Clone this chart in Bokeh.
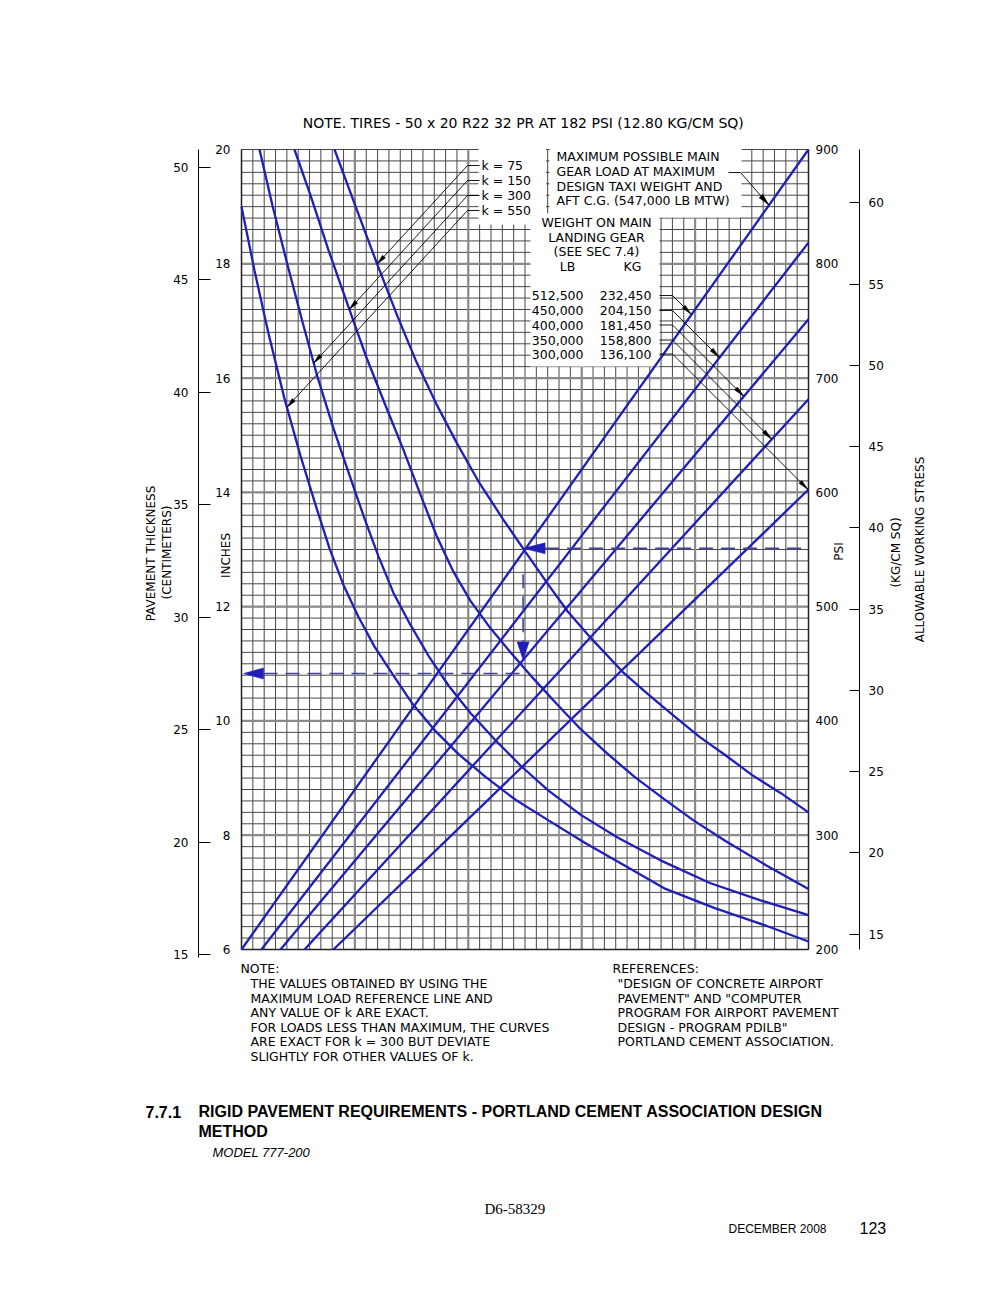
import numpy as np
from bokeh.plotting import figure
from bokeh.models import Range1d, LinearAxis, FixedTicker, Label
from bokeh.embed import file_html
from bokeh.resources import INLINE

# ---------------- values ----------------
# x = position across the nomograph grid (0 = left edge, 50 = right edge, one unit per column)
K_VALUES = [75, 150, 300, 550]

K75_X = [8.20, 10.14, 11.99, 13.76, 15.43, 17.20, 19.05, 20.99, 23.10, 25.04, 27.07,
         28.75, 30.86, 33.60, 35.89, 38.18, 40.39, 42.68, 44.97, 47.53, 50.00]
K75_PSI = [900, 848, 799, 754, 714, 677, 642, 608, 576, 548, 519,
           496, 472, 443, 423, 404, 386, 370, 353, 337, 320]

K150_X = [4.67, 6.08, 7.67, 9.44, 11.02, 12.70, 14.29, 15.78, 17.20, 18.61, 20.19, 21.96,
          23.81, 25.75, 27.78, 29.89, 32.19, 34.66, 37.21, 39.86, 42.68, 46.21, 50.00]
K150_PSI = [900, 860, 812, 762, 718, 676, 637, 598, 562, 532, 505, 481,
            459, 437, 415, 393, 372, 351, 332, 313, 295, 274, 253]

K300_X = [1.59, 2.73, 4.06, 5.38, 6.70, 8.11, 9.52, 10.85, 12.08, 13.40, 14.90, 16.49,
          18.25, 20.19, 22.31, 24.60, 27.07, 29.89, 33.16, 36.95, 41.36, 45.77, 50.00]
K300_PSI = [900, 851, 799, 749, 701, 656, 615, 577, 544, 512, 484, 457,
            431, 407, 384, 361, 339, 318, 298, 278, 258, 243, 230]

K550_X = [0.00, 1.15, 2.38, 3.79, 5.20, 6.53, 7.76, 8.99, 10.32, 11.73, 13.32, 15.08,
          17.02, 19.14, 21.52, 24.16, 27.07, 30.34, 33.86, 37.39, 41.80, 46.21, 50.00]
K550_PSI = [850, 794, 739, 682, 632, 589, 551, 519, 491, 465, 441, 415,
            392, 371, 351, 331, 313, 293, 273, 253, 236, 221, 207]

LOAD_LB = [512500, 450000, 400000, 350000, 300000]
LOAD_KG = [232450, 204150, 181450, 158800, 136100]
LOAD_START_X = [0.00, 1.76, 3.44, 5.56, 8.11]        # where each line leaves the 6 in level
LOAD_END_IN = [20.00, 18.37, 17.03, 15.63, 14.05]     # thickness where each line meets the right edge

INCH_TICKS = [6, 8, 10, 12, 14, 16, 18, 20]
PSI_TICKS = [200, 300, 400, 500, 600, 700, 800, 900]
CM_TICKS = [15, 20, 25, 30, 35, 40, 45, 50]
KGCM_TICKS = [15, 20, 25, 30, 35, 40, 45, 50, 55, 60]

EXAMPLE_PSI = 551
EXAMPLE_K = 75
EXAMPLE_LOAD_LB = 400000
EXAMPLE_THICKNESS_IN = 10.83

K_CURVES = {75: (K75_X, K75_PSI), 150: (K150_X, K150_PSI),
            300: (K300_X, K300_PSI), 550: (K550_X, K550_PSI)}

# ---------------- layout helpers (page pixels) ----------------
W, H = 1000, 1290
FL, FR, FT = 241, 808, 149          # grid edges on the page
Y6_PAGE = 949                        # page y of the 6 in line
X0, X1 = 0.0, 50.0
Y_TOP = 20.0
SX = (FR - FL) / (X1 - X0)
SY = (Y6_PAGE - FT) / (Y_TOP - 6.0)
PSI_PER_KGCM = 14.2233


def dx(px):
    return X0 + (px - FL) / SX


def dy(py):
    return 6.0 + (Y6_PAGE - py) / SY


def pgx(x):
    return FL + (np.asarray(x, float) - X0) * SX


def pgy(y):
    return Y6_PAGE - (np.asarray(y, float) - 6.0) * SY


def in_to_psi(v):
    return 200.0 + (v - 6.0) * 50.0


def psi_to_in(psi):
    return 6.0 + (np.asarray(psi, float) - 200.0) / 50.0


y_lo, y_hi = dy(H), dy(0)
p = figure(width=W, height=H, x_range=Range1d(dx(0), dx(W)), y_range=Range1d(y_lo, y_hi),
           x_axis_type=None, y_axis_type=None, toolbar_location=None, output_backend="svg",
           min_border=0, min_border_left=0, min_border_right=0, min_border_top=0,
           min_border_bottom=0)
p.title.visible = False
p.outline_line_color = None
p.background_fill_color = "white"
p.border_fill_color = "white"
p.extra_y_ranges = {
    "psi": Range1d(in_to_psi(y_lo), in_to_psi(y_hi)),
    "cm": Range1d(y_lo * 2.54, y_hi * 2.54),
    "kgcm": Range1d(in_to_psi(y_lo) / PSI_PER_KGCM, in_to_psi(y_hi) / PSI_PER_KGCM),
}

# ---------------- grid (drawn as lines inside the nomograph area) ----------------
GRID_DARK = "#474747"
cols = list(range(0, 51))
rows = [round(6 + 0.2 * i, 1) for i in range(71)]
p.multi_line([[c, c] for c in cols], [[6.0, Y_TOP] for c in cols], line_color=GRID_DARK, line_width=1)
p.multi_line([[X0, X1] for r in rows], [[r, r] for r in rows], line_color=GRID_DARK, line_width=1)
heavy_c = [10, 20, 30, 40]
heavy_r = [8, 10, 12, 14, 16, 18]
p.multi_line([[c, c] for c in heavy_c], [[6.0, Y_TOP] for c in heavy_c], line_color="#8a8a8a", line_width=2.2)
p.multi_line([[X0, X1] for r in heavy_r], [[r, r] for r in heavy_r], line_color="#8a8a8a", line_width=2.2)
p.multi_line([[X0, X0], [X1, X1], [X0, X1]], [[6.0, Y_TOP], [6.0, Y_TOP], [6.0, 6.0]],
             line_color="#222222", line_width=1.5)

# white label areas
boxes = [(478, 545.5, 147, 224), (549, 741, 147, 217), (530, 659, 213, 366)]
p.quad(left=[dx(b[0]) for b in boxes], right=[dx(b[1]) for b in boxes],
       top=[dy(b[2]) for b in boxes], bottom=[dy(b[3]) for b in boxes],
       fill_color="white", line_color=None)

# ---------------- curves ----------------
BLUE = "#1f1fb8"
for k in K_VALUES:
    xs, ps = K_CURVES[k]
    p.line(xs, ps, y_range_name="psi", line_color=BLUE, line_width=2.3)
for x0, yend in zip(LOAD_START_X, LOAD_END_IN):
    p.line([x0, X1], [6.0, yend], line_color=BLUE, line_width=2.3)


# ---------------- leaders / arrows ----------------
def hit(p0, d, cx, cy):
    cx = np.asarray(cx, float)
    cy = np.asarray(cy, float)
    o = np.argsort(cy)
    cx, cy = cx[o], cy[o]
    d = np.asarray(d, float)
    d = d / np.hypot(*d)
    t = np.arange(0.0, 900.0, 0.2)
    xs = p0[0] + t * d[0]
    ys = p0[1] + t * d[1]
    ok = (ys >= cy[0]) & (ys <= cy[-1])
    f = xs - np.interp(ys, cy, cx)
    good = ok[:-1] & ok[1:] & (f[:-1] * f[1:] <= 0)
    i = int(np.argmax(good))
    return np.array([xs[i], ys[i]])


def head(tip, d, L, Wd, color):
    d = np.asarray(d, float)
    d = d / np.hypot(*d)
    n = np.array([-d[1], d[0]])
    tip = np.asarray(tip, float)
    b = tip - L * d
    pts = [tip, b + n * Wd / 2, b - n * Wd / 2]
    p.patch([dx(q[0]) for q in pts], [dy(q[1]) for q in pts],
            fill_color=color, line_color=color, line_width=0.5)


def poly(pts, color="black", width=0.9, dash="solid"):
    p.line([dx(q[0]) for q in pts], [dy(q[1]) for q in pts],
           line_color=color, line_width=width, line_dash=dash)


def curve_page(k):
    xs, ps = K_CURVES[k]
    return pgx(xs), pgy(psi_to_in(ps))


def load_page(i):
    return pgx([LOAD_START_X[i], X1]), pgy([6.0, LOAD_END_IN[i]])


K_ROWS = [165, 180, 195, 210]
for row, k in zip(K_ROWS, K_VALUES):
    d = (-1.0, 1.09)
    start = np.array([467.0, row])
    tip = hit(start, d, *curve_page(k))
    poly([(479, row), (467, row), tip])
    head(tip, d, 10, 4, "black")

W_ROWS = [295, 310, 324.5, 339.5, 353.5]
for i, row in enumerate(W_ROWS):
    d = (1.0, 1.0)
    start = np.array([672.0, row])
    tip = hit(start, d, *load_page(i))
    poly([(659, row), (672, row), tip])
    head(tip, d, 11, 4, "black")

d = (27.0, 31.0)
start = np.array([740.0, 172.0])
tip = hit(start, d, *load_page(0))
poly([(728, 172), (740, 172), tip])
head(tip, d, 12, 5, "black")

# worked example (dashed)
DASH_C = "#43439a"
kx, kp = K_CURVES[EXAMPLE_K]
x_v = float(np.interp(EXAMPLE_PSI, kp[::-1], kx[::-1]))
y_h = float(psi_to_in(EXAMPLE_PSI))
li = LOAD_LB.index(EXAMPLE_LOAD_LB)
y_tip = float(np.interp(x_v, [LOAD_START_X[li], X1], [6.0, LOAD_END_IN[li]]))
tx, ty = float(pgx(x_v)), float(pgy(y_h))
head((tx, ty), (-1, 0), 22, 11, BLUE)
poly([(tx + 22, ty), (FR, ty)], DASH_C, 1.6, "14 8")
vy = float(pgy(y_tip))
head((tx, vy), (0, 1), 18, 12, BLUE)
poly([(tx, ty + 26), (tx, vy - 18)], DASH_C, 1.6, "14 8")
ly = float(pgy(EXAMPLE_THICKNESS_IN))
head((FL + 2, ly), (-1, 0), 20, 11, BLUE)
poly([(FL + 22, ly), (tx, ly)], DASH_C, 1.6, "14 8")

# ---------------- axes ----------------
FONT = "DejaVu Sans"


def style_axis(ax):
    ax.major_label_text_font = FONT
    ax.major_label_text_font_size = "12px"
    ax.major_label_text_color = "black"
    ax.minor_tick_in = 0
    ax.minor_tick_out = 0


ax_in = LinearAxis(fixed_location=X0, ticker=FixedTicker(ticks=INCH_TICKS), bounds=(6, 20),
                   major_tick_in=0, major_tick_out=0, axis_line_color=None, major_label_standoff=11)
style_axis(ax_in)
p.add_layout(ax_in, "left")

ax_cm = LinearAxis(y_range_name="cm", fixed_location=dx(198), ticker=FixedTicker(ticks=CM_TICKS),
                   bounds=(dy(957) * 2.54, Y_TOP * 2.54),
                   major_tick_in=12, major_tick_out=0, major_label_standoff=10,
                   axis_line_color="black", major_tick_line_color="black")
style_axis(ax_cm)
p.add_layout(ax_cm, "left")

ax_psi = LinearAxis(y_range_name="psi", fixed_location=X1, ticker=FixedTicker(ticks=PSI_TICKS),
                    bounds=(200, 900), major_tick_in=0, major_tick_out=0, axis_line_color=None,
                    major_label_standoff=7)
style_axis(ax_psi)
p.add_layout(ax_psi, "right")

ax_kg = LinearAxis(y_range_name="kgcm", fixed_location=dx(859), ticker=FixedTicker(ticks=KGCM_TICKS),
                   bounds=(200 / PSI_PER_KGCM, 900 / PSI_PER_KGCM),
                   major_tick_in=10, major_tick_out=0, major_label_standoff=9,
                   axis_line_color="black", major_tick_line_color="black")
style_axis(ax_kg)
p.add_layout(ax_kg, "right")


# ---------------- texts ----------------
def txt(text, px, py, size="12.5px", font=FONT, align="left", angle=0.0, style="normal"):
    p.add_layout(Label(x=dx(px), y=dy(py), text=text, text_font=font, text_font_size=size,
                       text_align=align, text_baseline="middle", angle=angle,
                       text_font_style=style, text_color="black"))


txt("NOTE.  TIRES - 50 x 20 R22 32 PR AT 182 PSI (12.80 KG/CM SQ)", 525, 122, "14px", align="center")

for row, k in zip(K_ROWS, K_VALUES):
    txt(f"k = {k}", 481, row)

for row, s in zip([156, 171, 185.5, 200], ["MAXIMUM POSSIBLE MAIN", "GEAR LOAD AT MAXIMUM",
                                           "DESIGN TAXI WEIGHT AND", "AFT C.G. (547,000 LB MTW)"]):
    txt(s, 556, row)

txt("WEIGHT ON MAIN", 596, 221.5, align="center")
txt("LANDING GEAR", 596, 236.5, align="center")
txt("(SEE SEC 7.4)", 596, 251, align="center")
txt("LB", 567, 266, align="center")
txt("KG", 632, 266, align="center")
for row, lb, kg in zip(W_ROWS, LOAD_LB, LOAD_KG):
    txt(f"{lb:,}", 583, row, align="right")
    txt(f"{kg:,}", 651, row, align="right")

ROT = np.pi / 2
txt("PAVEMENT THICKNESS", 150, 553, "12px", align="center", angle=ROT)
txt("(CENTIMETERS)", 166, 552, "12px", align="center", angle=ROT)
txt("INCHES", 225, 555, "12px", align="center", angle=ROT)
txt("PSI", 838, 551, "12px", align="center", angle=ROT)
txt("(KG/CM SQ)", 895, 552, "12px", align="center", angle=ROT)
txt("ALLOWABLE WORKING STRESS", 919, 549, "12px", align="center", angle=ROT)

note_rows = [968, 983, 997.5, 1012, 1026.5, 1041, 1056]
txt("NOTE:", 240, note_rows[0])
for row, s in zip(note_rows[1:], ["THE VALUES OBTAINED BY USING THE",
                                  "MAXIMUM LOAD REFERENCE LINE AND",
                                  "ANY VALUE OF k ARE EXACT.",
                                  "FOR LOADS LESS THAN MAXIMUM, THE CURVES",
                                  "ARE EXACT FOR k = 300 BUT DEVIATE",
                                  "SLIGHTLY FOR OTHER VALUES OF k."]):
    txt(s, 250, row)
txt("REFERENCES:", 612, note_rows[0])
for row, s in zip(note_rows[1:], ['"DESIGN OF CONCRETE AIRPORT',
                                  'PAVEMENT" AND "COMPUTER',
                                  "PROGRAM FOR AIRPORT PAVEMENT",
                                  'DESIGN - PROGRAM PDILB"',
                                  "PORTLAND CEMENT ASSOCIATION."]):
    txt(s, 617, row)

txt("7.7.1", 145, 1111, "16px", font="Liberation Sans", style="bold")
txt("RIGID PAVEMENT REQUIREMENTS - PORTLAND CEMENT ASSOCIATION DESIGN", 198, 1111, "16px",
    font="Liberation Sans", style="bold")
txt("METHOD", 198, 1131, "16px", font="Liberation Sans", style="bold")
txt("MODEL 777-200", 212, 1152, "13px", font="Liberation Sans", style="italic")
txt("D6-58329", 484, 1208, "15px", font="Liberation Serif")
txt("DECEMBER 2008", 728, 1228, "12px", font="Liberation Sans")
txt("123", 859, 1227, "16px", font="Liberation Sans")

open("out.html", "w").write(file_html(p, INLINE))
